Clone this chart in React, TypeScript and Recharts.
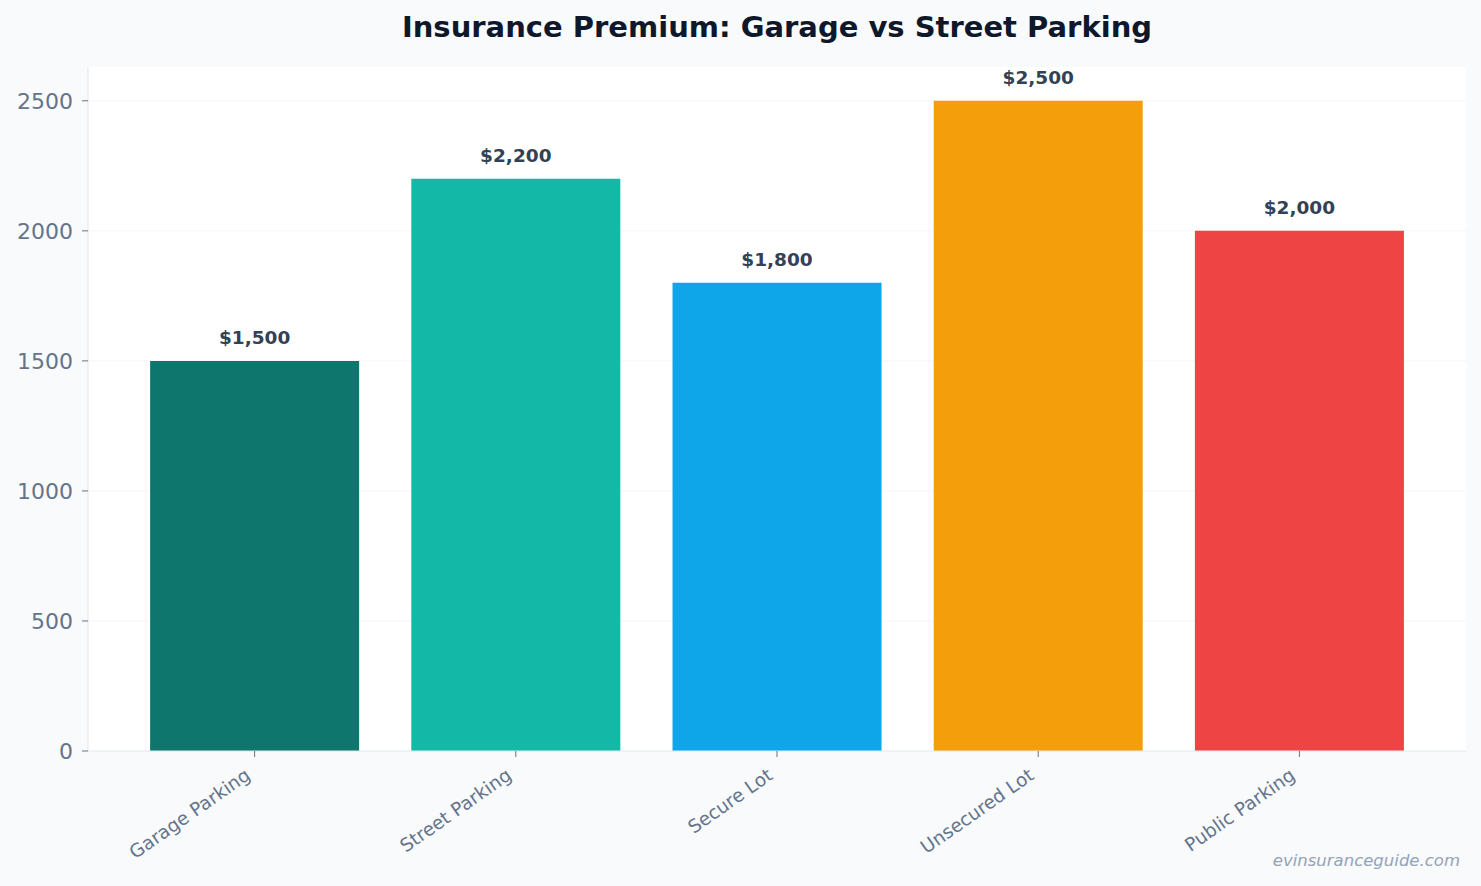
import React from "react";
import { BarChart, Bar, XAxis, YAxis, CartesianGrid, Cell, LabelList } from "recharts";

const categories = ["Garage Parking", "Street Parking", "Secure Lot", "Unsecured Lot", "Public Parking"];
const premiums = [1500, 2200, 1800, 2500, 2000];
const barColors = ["#0f766e", "#14b8a6", "#0ea5e9", "#f59e0b", "#ef4444"];
const yTicks = [0, 500, 1000, 1500, 2000, 2500];

const data = categories.map((name, i) => ({ name, value: premiums[i], color: barColors[i] }));

const FONT = "DejaVu Sans, sans-serif";

const XTick = (props: any) => {
  const { x, y, payload } = props;
  return (
    <g transform={`translate(${x - 3},${y + 19})`}>
      <text
        x={0}
        y={0}
        textAnchor="end"
        transform="rotate(-35)"
        fill="#64748b"
        fontSize={18.5}
        fontFamily={FONT}
      >
        {payload.value}
      </text>
    </g>
  );
};

const fmt = (v: any) => "$" + Number(v).toLocaleString("en-US");

export default function App() {
  return (
    <div
      style={{
        position: "absolute",
        left: 0,
        top: 0,
        width: 1481,
        height: 886,
        background: "#f8fafc",
        fontFamily: FONT,
      }}
    >
      <div
        style={{
          position: "absolute",
          left: 88,
          width: 1378,
          top: 10,
          textAlign: "center",
          fontSize: 29,
          fontWeight: "bold",
          color: "#0f172a",
          fontFamily: FONT,
        }}
      >
        Insurance Premium: Garage vs Street Parking
      </div>
      <BarChart
        width={1481}
        height={886}
        data={data}
        margin={{ top: 67, right: 15, bottom: 0, left: 0 }}
        barCategoryGap="10%"
      >
        <CartesianGrid fill="#ffffff" stroke="none" vertical={false} horizontal={false} />
        <XAxis
          dataKey="name"
          height={135}
          padding={{ left: 36, right: 36 }}
          stroke="#e2e8f0"
          tickLine={{ stroke: "#64748b" }}
          tickSize={6}
          tick={<XTick />}
          interval={0}
        />
        <YAxis
          width={88}
          domain={[0, 2630]}
          ticks={yTicks}
          stroke="#e2e8f0"
          tickLine={{ stroke: "#64748b" }}
          tickSize={6}
          tickMargin={9}
          tick={{ fill: "#64748b", fontSize: 22, fontFamily: FONT }}
          allowDataOverflow
        />
        <Bar dataKey="value" isAnimationActive={false}>
          {data.map((d, i) => (
            <Cell key={i} fill={d.color} />
          ))}
          <LabelList
            dataKey="value"
            position="top"
            offset={17}
            formatter={fmt}
            fill="#334155"
            fontSize={18.5}
            fontWeight="bold"
            fontFamily={FONT}
          />
        </Bar>
        <CartesianGrid
          vertical={false}
          stroke="#e2e8f0"
          strokeOpacity={0.45}
          fill="none"
          horizontalValues={yTicks.slice(1)}
        />
      </BarChart>
      <div
        style={{
          position: "absolute",
          right: 21,
          top: 851,
          fontSize: 16.5,
          fontStyle: "italic",
          color: "#94a3b8",
          fontFamily: FONT,
        }}
      >
        evinsuranceguide.com
      </div>
    </div>
  );
}
